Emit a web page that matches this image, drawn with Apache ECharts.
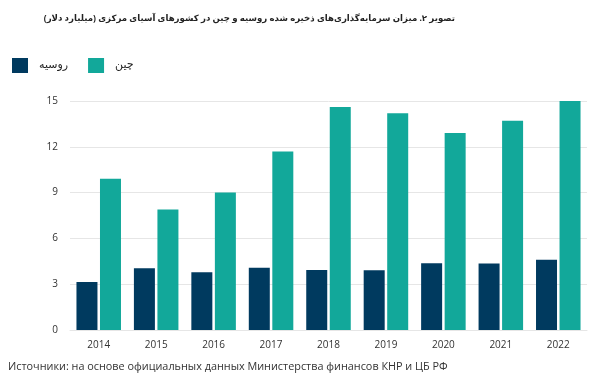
<!DOCTYPE html>
<html><head><meta charset="utf-8">
<script src="https://cdn.jsdelivr.net/npm/echarts@6/dist/echarts.min.js"></script>
<style>html,body{margin:0;padding:0;background:#fff}#c{width:600px;height:383px}</style>
</head><body><div id="c"></div>
<script>
const categories = ['2014','2015','2016','2017','2018','2019','2020','2021','2022'];
const russia = [3.15, 4.05, 3.78, 4.08, 3.93, 3.91, 4.37, 4.35, 4.6];
const china = [9.9, 7.9, 9.0, 11.7, 14.6, 14.2, 12.9, 13.7, 15.0];
const yTicks = [0, 3, 6, 9, 12, 15];
const titleText = 'تصویر ۲. میزان سرمایه‌گذاری‌های ذخیره شده روسیه و چین در کشورهای آسیای مرکزی (میلیارد دلار)';
const sourceText = 'Источники: на основе официальных данных Министерства финансов КНР и ЦБ РФ';
const seriesNames = ['روسیه', 'چین'];

const chart = echarts.init(document.getElementById('c'));
chart.setOption({
  backgroundColor: '#fff',
  animation: false,
  title: {
    text: titleText, right: 145, top: 14, padding: 0,
    textStyle: {fontSize: 8.6, fontWeight: 'bold', color: '#222', fontFamily: '"Noto Sans", "DejaVu Sans", sans-serif'}
  },
  graphic: [
    {type:'text', x: 8, y: 361, style:{text: sourceText, fill:'#333', fontSize: 10.85, fontFamily: '"Open Sans", sans-serif'}}
  ],
  legend: {
    left: 7, top: 53, itemWidth: 16, itemHeight: 15, itemGap: 20, icon: 'rect',
    textStyle: {fontSize: 11, color: '#222', fontFamily: '"DejaVu Sans", sans-serif', padding:[0,0,0,6]},
    data: seriesNames
  },
  grid: {left: 70, right: 13, top: 101, bottom: 53},
  xAxis: {
    type: 'category', data: categories,
    axisLine: {show: true, lineStyle:{color:'#e6e6e6'}}, axisTick: {show: false},
    axisLabel: {color:'#333', fontSize: 10, margin: 10, fontFamily:'"Open Sans", sans-serif'}
  },
  yAxis: {
    type: 'value', min: 0, max: 15, interval: 3,
    axisLabel: {color:'#333', fontSize: 10, margin: 12, fontFamily:'"Open Sans", sans-serif'},
    splitLine: {lineStyle:{color:'#e6e6e6'}}
  },
  series: [
    {name: seriesNames[0], type:'bar', data: russia, barWidth: 21, barGap: '12%', itemStyle:{color:'#003a5f'}},
    {name: seriesNames[1], type:'bar', data: china, barWidth: 21, itemStyle:{color:'#12a89a'}}
  ]
});
</script></body></html>
